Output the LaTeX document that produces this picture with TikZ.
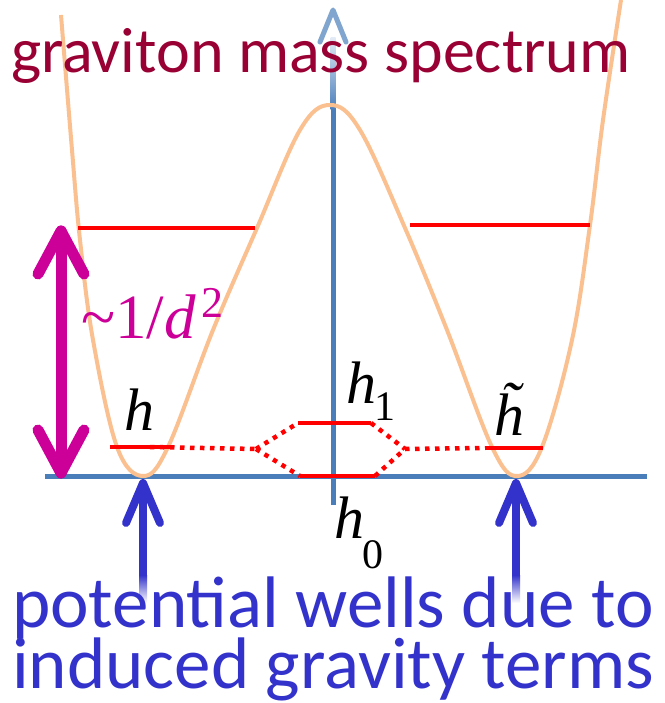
\documentclass[tikz,border=0pt]{standalone}
\usepackage{fontspec}
\setmainfont{Liberation Serif}
\newfontfamily\calibri{Carlito}
\usetikzlibrary{positioning}
\definecolor{axisblue}{RGB}{74,126,187}
\definecolor{axisfade}{RGB}{225,234,245}
\definecolor{wellorange}{RGB}{250,192,144}
\definecolor{titlered}{RGB}{153,0,51}
\definecolor{spreadmag}{RGB}{204,0,153}
\definecolor{pointblue}{RGB}{51,51,204}
\tikzset{
  axisline/.style={axisblue, line width=5pt},
  level/.style={red, line width=4.5pt},
  tunnel/.style={red, line width=4.5pt, dash pattern=on 4.5pt off 5.5pt},
  chevron/.style={line cap=round, line join=round},
  lbl/.style={inner sep=0pt, anchor=base west},
}
\begin{document}
\begin{tikzpicture}[x=1pt,y=-1pt]
  \useasboundingbox (0,0) rectangle (664,703);

  % Axes
  \coordinate (xl) at (45,476);
  \coordinate (xr) at (647,476);
  \coordinate (yb) at (333,505);
  \coordinate (yt) at (333,10);
  \draw[axisline] (xl) -- (xr);
  \draw[axisline] (yb) -- (333,108);
  \shade[top color=axisfade, bottom color=axisblue] (330.5,38) rectangle (335.5,110);
  \draw[axisline, color=axisblue!70, chevron] (320,42) -- (yt) -- (346,42);

  % double well
  \draw[wellorange, line width=4pt] plot[smooth, tension=0.6] coordinates {
    (61,15) (72,150) (80,240) (93,340) (117,447) (143,476) (168,447)
    (213,330) (257,228) (300,130) (330,105) (360,130) (405,228) (447,330)
    (492,447) (517,476) (542,447) (572,340) (590,225) (603,120) (621,0)};

  % levels
  \coordinate (upl1) at (78,228);  \coordinate (upl2) at (255,228);
  \coordinate (upr1) at (410,225); \coordinate (upr2) at (590,225);
  \coordinate (hl1) at (110,447);  \coordinate (hl2) at (170,447);
  \coordinate (ht1) at (485,448);  \coordinate (ht2) at (543,448);
  \coordinate (hone1) at (298,423); \coordinate (hone2) at (371,423);
  \coordinate (hzero1) at (300,476); \coordinate (hzero2) at (375,476);
  \coordinate (vl) at (256,449);   \coordinate (vr) at (405,449);
  \draw[level] (upl1) -- (upl2);
  \draw[level] (upr1) -- (upr2);
  \draw[level] (hl1) -- (hl2);
  \draw[level] (ht1) -- (ht2);
  \draw[level] (hone1) -- (hone2);
  \draw[level] (hzero1) -- (hzero2);

  % tunnelling
  \draw[tunnel] (150,447) -- (vl);
  \draw[tunnel] (vl) -- (hone1);
  \draw[tunnel] (vl) -- (hzero1);
  \draw[tunnel] (hone2) -- (vr);
  \draw[tunnel] (hzero2) -- (vr);
  \draw[tunnel] (vr) -- (ht1);

  % level spacing
  \coordinate (sp1) at (61,231);
  \coordinate (sp0) at (61,473);
  \draw[spreadmag, line width=11pt, chevron] (sp1) -- (sp0);
  \draw[spreadmag, line width=11pt, chevron] (38,274) -- (sp1) -- (84,274);
  \draw[spreadmag, line width=11pt, chevron] (38,430) -- (sp0) -- (84,430);

  % wells
  \foreach \x/\n in {143/l,516/r}{
    \coordinate (pw\n) at (\x,483);
    \draw[pointblue, line width=8pt] (\x,576) -- (pw\n);
    \shade[top color=pointblue, bottom color=white] (\x-4,575) rectangle (\x+4,603);
    \draw[pointblue, line width=8pt, chevron] (\x-17,523) -- (pw\n) -- (\x+17,523);
  }

  % Labels
  \node[lbl, titlered, font=\calibri\fontsize{64}{64}\selectfont] (title) at (11,73) {graviton mass spectrum};
  \node[lbl, pointblue, font=\calibri\fontsize{73}{73}\selectfont] (wells) at (12,627) {potential wells due to};
  \node[lbl, pointblue, font=\calibri\fontsize{73}{73}\selectfont] (terms) at (12,688) {induced gravity terms};
  \node[lbl, spreadmag, font=\fontsize{63}{63}\selectfont] (dd) at (81,338)
    {\textasciitilde 1/\textit{d}\kern6pt\raisebox{21pt}{\fontsize{44}{44}\selectfont 2}};
  \node[lbl, font=\fontsize{60}{60}\selectfont] (hh) at (124,430) {\textit{h}};
  \node[lbl, font=\fontsize{60}{60}\selectfont] (hone) at (346,403)
    {\textit{h}\kern-2pt\raisebox{-17pt}{\fontsize{42}{42}\selectfont 1}};
  \node[lbl, font=\fontsize{60}{60}\selectfont] (hzero) at (334,538)
    {\textit{h}\kern-2pt\raisebox{-30pt}{\fontsize{42}{42}\selectfont 0}};
  \node[lbl, font=\fontsize{60}{60}\selectfont] (htil) at (494,435) {\textit{\~h}};
\end{tikzpicture}
\end{document}
